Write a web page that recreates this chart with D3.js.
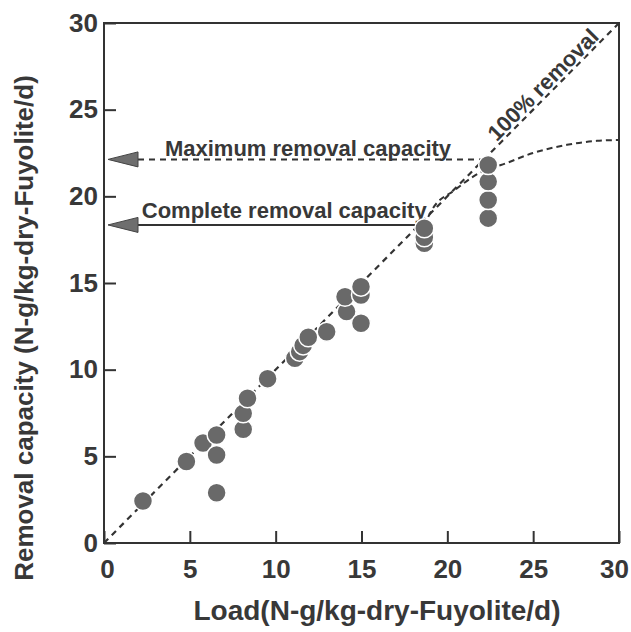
<!DOCTYPE html>
<html>
<head>
<meta charset="utf-8">
<script src="https://cdn.jsdelivr.net/npm/d3@7"></script>
<style>
  html, body { margin: 0; padding: 0; background: #fff; overflow: hidden; }
  svg { display: block; font-family: "Liberation Sans", Arial, Helvetica, sans-serif; }
</style>
</head>
<body>
<div id="chart"></div>
<script>
// measured points, drawn in this order (lower circles first so upper ones overlap)
const pointLoad = [2.27, 4.80, 5.77, 6.56, 6.56, 6.56, 8.11, 8.11, 8.36, 9.53, 11.12, 11.40, 11.60, 11.90, 12.97, 14.13, 14.04, 14.97, 14.97, 14.97, 18.66, 18.66, 18.66, 22.38, 22.38, 22.38, 22.38];
const pointRemoval = [2.42, 4.70, 5.77, 5.08, 6.23, 2.90, 6.56, 7.48, 8.35, 9.48, 10.66, 11.04, 11.40, 11.87, 12.19, 13.35, 14.21, 12.68, 14.31, 14.79, 17.29, 17.64, 18.16, 18.74, 19.79, 20.85, 21.81];

// saturation curve (maximum removal capacity)
const curveLoad = [18.64, 19.10, 20.44, 22.40, 23.12, 24.99, 26.97, 28.71, 29.95];
const curveRemoval = [18.29, 19.21, 20.37, 21.60, 21.81, 22.50, 22.97, 23.20, 23.25];

const loadTicks = [0, 5, 10, 15, 20, 25, 30];
const removalTicks = [0, 5, 10, 15, 20, 25, 30];

// horizontal arrows: level, where the line stops, label
const arrowLevel = [22.13, 18.35];
const arrowEnd = [22.3, 18.2];
const arrowLabel = ["Maximum removal capacity", "Complete removal capacity"];
const arrowLabelStart = [3.55, 2.2];
const arrowDashed = [true, false];

const width = 631;
const height = 632;
const margin = { top: 23, right: 12, bottom: 89, left: 104 };
const innerWidth = width - margin.left - margin.right;
const innerHeight = height - margin.top - margin.bottom;
const ink = "#333";
const textInk = "#383838";

const svg = d3.select("#chart")
  .append("svg")
  .attr("width", width)
  .attr("height", height);

const g = svg.append("g")
  .attr("transform", `translate(${margin.left},${margin.top})`);

const x = d3.scaleLinear().domain([0, 30]).range([0, innerWidth]);
const y = d3.scaleLinear().domain([0, 30]).range([innerHeight, 0]);

// axes, ticks pointing inward
const xAxis = g.append("g")
  .attr("transform", `translate(0,${innerHeight})`)
  .call(d3.axisBottom(x).tickValues(loadTicks).tickSize(-12).tickPadding(17).tickFormat(d3.format("d")));
const yAxis = g.append("g")
  .call(d3.axisLeft(y).tickValues(removalTicks).tickSize(-12).tickPadding(6).tickFormat(d3.format("d")));

[xAxis, yAxis].forEach((ax) => {
  ax.attr("font-family", null).attr("font-size", null);
  ax.select(".domain").remove();
  ax.selectAll(".tick line").attr("stroke", ink).attr("stroke-width", 2);
  ax.selectAll(".tick text")
    .attr("fill", textInk)
    .attr("font-size", 26)
    .attr("font-weight", "bold");
});

// the last load label sits a little inside so it stays on the page
xAxis.selectAll(".tick text")
  .attr("dx", (d) => (d === 30 ? -5 : d === 0 ? 3 : 0));

g.append("rect")
  .attr("width", innerWidth)
  .attr("height", innerHeight)
  .attr("fill", "none")
  .attr("stroke", ink)
  .attr("stroke-width", 2);

// 100% removal line
g.append("line")
  .attr("x1", x(0)).attr("y1", y(0))
  .attr("x2", x(30)).attr("y2", y(30))
  .attr("stroke", ink)
  .attr("stroke-width", 2.2)
  .attr("stroke-dasharray", "6,5");

// saturation curve
const curvePts = curveLoad.map((d, i) => [d, curveRemoval[i]]);
g.append("path")
  .datum(curvePts)
  .attr("fill", "none")
  .attr("stroke", ink)
  .attr("stroke-width", 2)
  .attr("stroke-dasharray", "6,4")
  .attr("d", d3.line().x((d) => x(d[0])).y((d) => y(d[1])).curve(d3.curveMonotoneX));

// arrows to the y axis
const arrowRows = arrowLevel.map((lvl, i) => ({
  lvl, end: arrowEnd[i], label: arrowLabel[i], start: arrowLabelStart[i], dashed: arrowDashed[i]
}));
const headLen = 30;
const headHalf = 7.5;

const arrows = g.selectAll(".arrow")
  .data(arrowRows)
  .join("g")
  .attr("class", "arrow");

arrows.append("line")
  .attr("x1", x(0) + 4 + headLen)
  .attr("x2", (d) => x(d.end))
  .attr("y1", (d) => y(d.lvl))
  .attr("y2", (d) => y(d.lvl))
  .attr("stroke", ink)
  .attr("stroke-width", 2)
  .attr("stroke-dasharray", (d) => (d.dashed ? "6,5" : null));

arrows.append("path")
  .attr("d", (d) => {
    const tx = x(0) + 4;
    const ty = y(d.lvl);
    return `M${tx},${ty}L${tx + headLen},${ty - headHalf}L${tx + headLen},${ty + headHalf}Z`;
  })
  .attr("fill", "#6e6e6e")
  .attr("stroke", "#444")
  .attr("stroke-width", 1);

arrows.append("text")
  .attr("x", (d) => x(d.start))
  .attr("y", (d) => y(d.lvl) - (d.dashed ? 3 : 7))
  .attr("fill", textInk)
  .attr("font-size", 22)
  .attr("font-weight", "bold")
  .text((d) => d.label);

// data points
const points = pointLoad.map((d, i) => ({ load: d, removal: pointRemoval[i] }));
g.selectAll(".pt")
  .data(points)
  .join("circle")
  .attr("class", "pt")
  .attr("cx", (d) => x(d.load))
  .attr("cy", (d) => y(d.removal))
  .attr("r", 9.5)
  .attr("fill", "#696969")
  .attr("stroke", "#fff")
  .attr("stroke-width", 1.5);

// label along the 100% line
const angle = Math.atan2(y(30) - y(0), x(30) - x(0)) * 180 / Math.PI;
g.append("text")
  .attr("transform", `translate(${x(23.0)},${y(23.0)}) rotate(${angle})`)
  .attr("dy", -3)
  .attr("fill", textInk)
  .attr("stroke", "#fff")
  .attr("stroke-width", 3)
  .attr("paint-order", "stroke")
  .attr("font-size", 22)
  .attr("font-weight", "bold")
  .text("100% removal");

// axis titles
svg.append("text")
  .attr("x", 377)
  .attr("y", 620)
  .attr("text-anchor", "middle")
  .attr("fill", textInk)
  .attr("font-size", 28)
  .attr("font-weight", "bold")
  .text("Load(N-g/kg-dry-Fuyolite/d)");

svg.append("text")
  .attr("transform", `translate(33,${margin.top + innerHeight / 2 + 45}) rotate(-90)`)
  .attr("text-anchor", "middle")
  .attr("fill", textInk)
  .attr("font-size", 26)
  .attr("font-weight", "bold")
  .text("Removal capacity (N-g/kg-dry-Fuyolite/d)");
</script>
</body>
</html>
